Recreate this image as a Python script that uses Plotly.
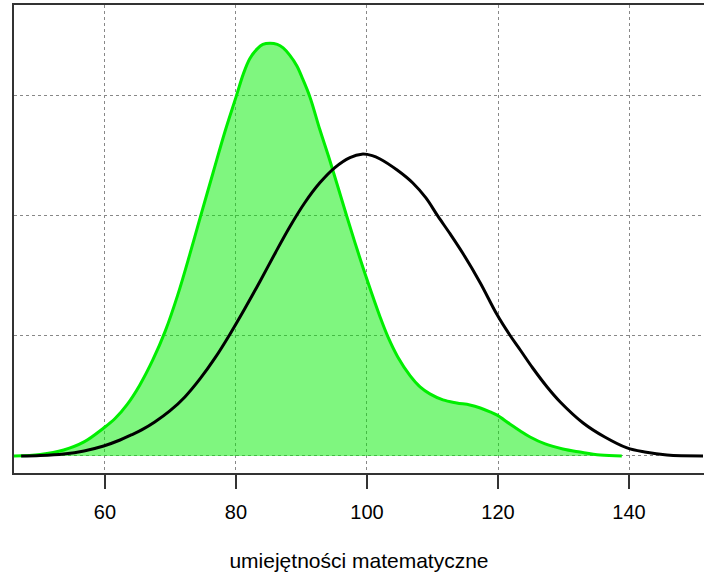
import plotly.graph_objects as go

# density estimates
green_x = [46.1, 50.1, 53.7, 56.8, 59.8, 61.5, 63.4, 65.3, 67.3, 69.2, 71.1, 73.0,
           74.5, 76.5, 78.3, 80.0, 81.1, 82.1, 83.2, 84.1, 85.2, 86.3, 87.2, 88.2,
           89.3, 90.2, 91.3, 92.8, 94.4, 96.9, 98.5, 100.0, 102.0, 103.2, 104.7,
           106.6, 108.1, 109.6, 111.6, 113.7, 115.7, 117.3, 118.8, 119.8, 121.8,
           123.4, 124.9, 127.2, 129.9, 132.5, 135.6, 138.9]
green_y = [0.0, 0.00013, 0.0005, 0.00117, 0.00233, 0.0031, 0.0043, 0.0059, 0.008,
           0.0104, 0.0134, 0.0169, 0.0198, 0.0236, 0.027, 0.0299, 0.0318, 0.0331,
           0.0339, 0.0343, 0.0344, 0.0343, 0.034, 0.0334, 0.0325, 0.0314, 0.0299,
           0.0272, 0.0245, 0.02, 0.0172, 0.0147, 0.01158, 0.00992, 0.00825, 0.00667,
           0.00575, 0.00517, 0.00467, 0.00442, 0.00425, 0.004, 0.00367, 0.00342,
           0.00267, 0.00208, 0.00158, 0.001, 0.00058, 0.00033, 0.00008, 0.0]

black_x = [47.2, 50.1, 53.7, 56.8, 59.8, 62.3, 64.0, 65.6, 67.6, 69.9, 72.2, 74.5,
           76.8, 79.1, 81.4, 83.7, 86.0, 88.2, 90.5, 92.8, 95.1, 97.4, 99.2, 100.8,
           102.0, 104.6, 107.0, 109.0, 110.8, 112.7, 114.7, 117.3, 119.8, 121.8,
           123.4, 125.3, 127.5, 129.5, 133.0, 136.3, 139.7, 142.4, 145.8, 151.3]
black_y = [0.0, 0.00004, 0.00017, 0.00042, 0.00083, 0.00133, 0.00175, 0.00217, 0.00283,
           0.00375, 0.00492, 0.00642, 0.00817, 0.01017, 0.01233, 0.01458, 0.01692,
           0.01908, 0.0211, 0.02276, 0.02403, 0.02486, 0.02515, 0.02503, 0.02475,
           0.02383, 0.02275, 0.0215, 0.02, 0.0185, 0.01683, 0.01442, 0.01183, 0.01008,
           0.00883, 0.00733, 0.00575, 0.0045, 0.00275, 0.00158, 0.00067, 0.00033,
           0.00008, 0.0]

x_ticks = [60, 80, 100, 120, 140]
y_grid = [0, 0.01, 0.02, 0.03]
x_title = 'umiejętności matematyczne'

fig = go.Figure()

fig.add_trace(go.Scatter(
    x=green_x, y=green_y, mode='lines',
    line=dict(color='#00EE00', width=3, shape='spline', smoothing=1.0),
    fill='tozeroy', fillcolor='rgba(0,238,0,0.5)',
    showlegend=False, hoverinfo='skip'
))

fig.add_trace(go.Scatter(
    x=black_x, y=black_y, mode='lines',
    line=dict(color='black', width=3, shape='spline', smoothing=1.0),
    showlegend=False, hoverinfo='skip'
))

fig.update_layout(
    width=704, height=577,
    margin=dict(l=14, r=0, t=5, b=104),
    plot_bgcolor='white', paper_bgcolor='white',
    font=dict(family='Liberation Sans, Arial', size=20, color='black'),
    xaxis=dict(
        range=[46.11, 151.45],
        tickvals=x_ticks, ticktext=[str(v) for v in x_ticks],
        ticks='outside', ticklen=14, tickwidth=1.5, tickcolor='#333',
        ticklabelstandoff=6,
        showline=True, linecolor='#333', linewidth=1.5, mirror=True,
        showgrid=True, gridcolor='#888', gridwidth=1, griddash='dot',
        zeroline=False,
        title=dict(text=x_title, standoff=32, font=dict(size=21)),
    ),
    yaxis=dict(
        range=[-0.00142, 0.03758],
        tickvals=y_grid, showticklabels=False, ticks='',
        showline=True, linecolor='#333', linewidth=1.5,
        showgrid=True, gridcolor='#888', gridwidth=1, griddash='dot',
        zeroline=False,
    ),
)

# drop the default page margin so the figure sits at the window's corner
fig.write_html('out.html', config={'displayModeBar': False},
               post_script="document.body.style.margin='0';")
